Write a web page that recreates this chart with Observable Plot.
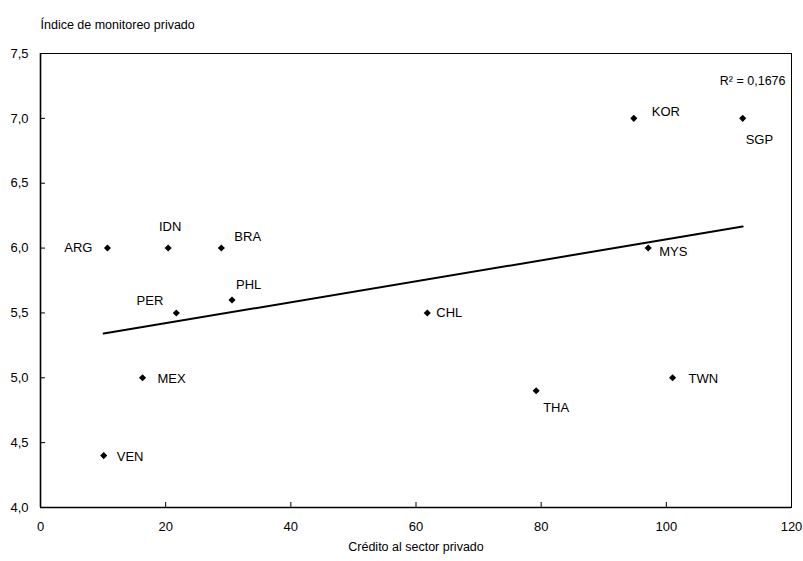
<!DOCTYPE html>
<html>
<head>
<meta charset="utf-8">
<script src="https://cdn.jsdelivr.net/npm/d3@7"></script>
<script src="https://cdn.jsdelivr.net/npm/@observablehq/plot@0.6"></script>
<style>
  html, body { margin: 0; padding: 0; background: #fff; }
  #chart svg { display: block; }
</style>
</head>
<body>
<div id="chart"></div>
<script>
// ---- data ----
const countries = ["ARG","IDN","BRA","PHL","PER","MEX","VEN","CHL","THA","KOR","SGP","MYS","TWN"];
const credit    = [10.7, 20.4, 28.9, 30.6, 21.7, 16.3, 10.1, 61.8, 79.2, 94.8, 112.2, 97.1, 101.0];
const monitoring= [6.0, 6.0, 6.0, 5.6, 5.5, 5.0, 4.4, 5.5, 4.9, 7.0, 7.0, 6.0, 5.0];
const xTicks = [0, 20, 40, 60, 80, 100, 120];
const yTicks = [4.0, 4.5, 5.0, 5.5, 6.0, 6.5, 7.0, 7.5];
const yTitle = "Índice de monitoreo privado";
const xTitle = "Crédito al sector privado";
const r2Text = "R² = 0,1676";

// label placement (style, not data): [dx, dy, textAnchor]
const labelPlacement = {
  ARG: [-15, 0, "end"], IDN: [2, -21, "middle"], BRA: [13, -11, "start"],
  PHL: [4, -15, "start"], PER: [-13, -12, "end"], MEX: [15, 1, "start"],
  VEN: [13, 1, "start"], CHL: [9, 0, "start"], THA: [7, 17, "start"],
  KOR: [18, -7, "start"], SGP: [3, 21, "start"], MYS: [11, 4, "start"],
  TWN: [16, 1, "start"]
};

const W = 803, H = 561, mL = 40, mR = 12, mT = 53, mB = 54;
const frameW = W - mL - mR, frameH = H - mT - mB, tickLen = 5;

const data = countries.map((c, i) => ({code: c, x: credit[i], y: monitoring[i]}));
const fmtY = d => d3.format(".1f")(d).replace(".", ",");
const font = "Liberation Sans, Arial, Helvetica, sans-serif";

const labelMarks = countries.map(c => {
  const [dx, dy, anchor] = labelPlacement[c];
  return Plot.text(data.filter(d => d.code === c), {
    x: "x", y: "y", text: "code", dx, dy, textAnchor: anchor,
    fontSize: 13, fill: "#000"
  });
});

const chart = Plot.plot({
  width: W,
  height: H,
  marginLeft: mL,
  marginRight: mR,
  marginTop: mT,
  marginBottom: mB,
  style: {fontFamily: font, fontSize: "13px", color: "#000", background: "#fff"},
  x: {domain: [0, 120]},
  y: {domain: [4, 7.5]},
  marks: [
    Plot.frame({stroke: "#000", strokeWidth: 1}),
    Plot.axisX({ticks: xTicks, tickSize: 0, tickPadding: 14, label: null, fontSize: 13}),
    Plot.axisY({ticks: yTicks, tickSize: 0, tickPadding: 12, tickFormat: fmtY, label: null, fontSize: 13}),
    // inward ticks
    Plot.tickY(yTicks, {y: d => d, insetRight: frameW - tickLen, stroke: "#000", strokeWidth: 1}),
    Plot.tickX(xTicks, {x: d => d, insetTop: frameH - tickLen, stroke: "#000", strokeWidth: 1}),
    Plot.ruleX([0], {strokeWidth: 1.6}),
    Plot.ruleY([4], {strokeWidth: 1.6}),
    Plot.linearRegressionY(data, {x: "x", y: "y", ci: 0, stroke: "#000", strokeWidth: 2}),
    Plot.dot(data, {x: "x", y: "y", symbol: "diamond2", r: 3.2, fill: "#000", stroke: "none"}),
    ...labelMarks,
    Plot.text([r2Text], {frameAnchor: "top-right", text: d => d, dx: -6, dy: 23, textAnchor: "end", fontSize: 12.5}),
    Plot.text([yTitle], {frameAnchor: "top-left", text: d => d, dx: 0, dy: -33, textAnchor: "start", fontSize: 12.5}),
    Plot.text([xTitle], {frameAnchor: "bottom", text: d => d, dy: 43, fontSize: 12.5})
  ]
});
document.getElementById("chart").appendChild(chart);
</script>
</body>
</html>
